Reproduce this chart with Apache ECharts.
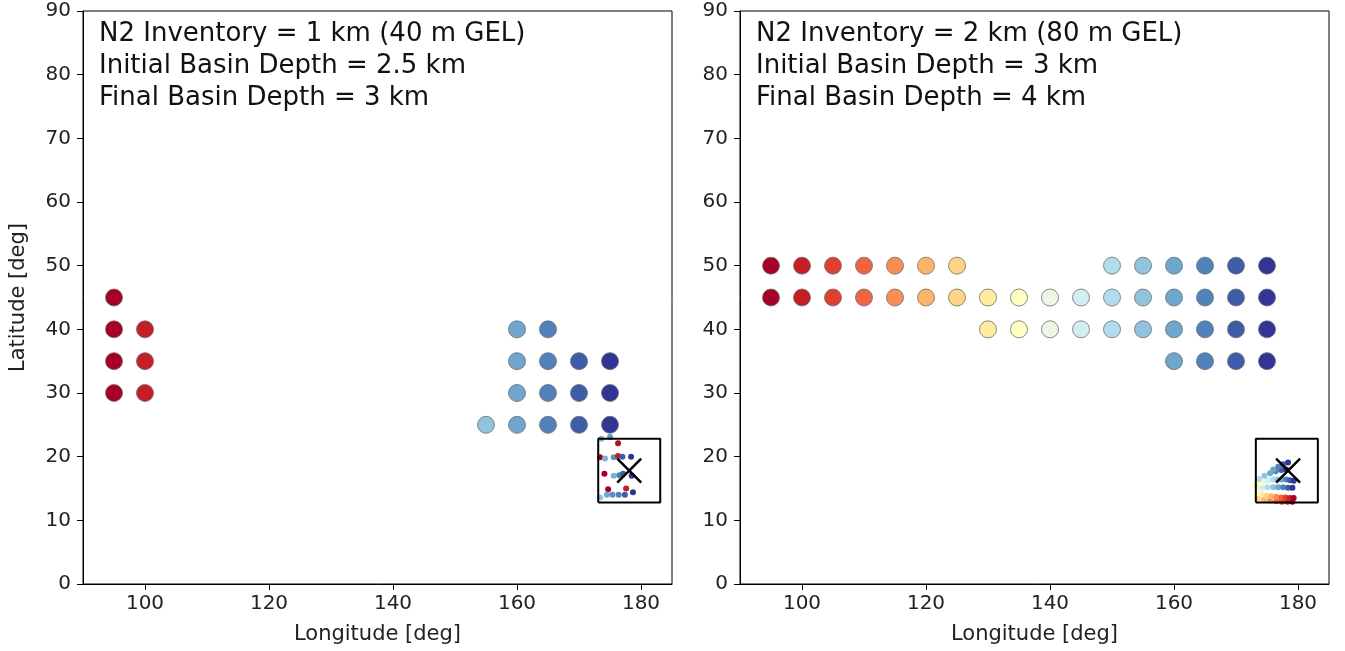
<!DOCTYPE html>
<html>
<head>
<meta charset="utf-8">
<script src="https://cdn.jsdelivr.net/npm/echarts@6/dist/echarts.min.js"></script>
<style>
  html, body { margin: 0; padding: 0; background: #fff; }
  #chart { width: 1345px; height: 651px; }
</style>
</head>
<body>
<div id="chart"></div>
<script>
// ---- data ----
var xTicks = [100, 120, 140, 160, 180];

var leftText = 'N2 Inventory = 1 km (40 m GEL)\nInitial Basin Depth = 2.5 km\nFinal Basin Depth = 3 km';
var rightText = 'N2 Inventory = 2 km (80 m GEL)\nInitial Basin Depth = 3 km\nFinal Basin Depth = 4 km';

// initial positions [lon, lat]
var leftStart = [
    [95, 45], [95, 40], [95, 35], [95, 30],
    [100, 40], [100, 35], [100, 30],
    [160, 40], [165, 40],
    [160, 35], [165, 35], [170, 35], [175, 35],
    [160, 30], [165, 30], [170, 30], [175, 30],
    [155, 25], [160, 25], [165, 25], [170, 25], [175, 25]
];

// final positions [lon, lat, starting lon]
var leftEnd = [
    [173.6, 22.8, 158], [175.0, 23.1, 162], [176.3, 22.1, 97],
    [173.4, 19.9, 95], [174.2, 19.7, 158], [175.6, 19.9, 163], [176.3, 20.1, 100], [177.0, 20.0, 170], [178.4, 20.0, 175],
    [174.1, 17.3, 95], [175.6, 17.0, 158], [176.5, 17.1, 165], [177.1, 17.3, 170], [178.5, 17.0, 175],
    [174.7, 14.9, 95], [177.6, 15.0, 100], [178.7, 14.4, 175],
    [173.4, 13.6, 155], [174.5, 14.0, 160], [175.4, 14.0, 163], [176.4, 14.0, 165], [177.4, 14.0, 170]
];

var rightStart = [
    [95, 50], [100, 50], [105, 50], [110, 50], [115, 50], [120, 50], [125, 50],
    [150, 50], [155, 50], [160, 50], [165, 50], [170, 50], [175, 50],
    [95, 45], [100, 45], [105, 45], [110, 45], [115, 45], [120, 45], [125, 45], [130, 45], [135, 45],
    [140, 45], [145, 45], [150, 45], [155, 45], [160, 45], [165, 45], [170, 45], [175, 45],
    [130, 40], [135, 40], [140, 40], [145, 40], [150, 40], [155, 40], [160, 40], [165, 40], [170, 40], [175, 40],
    [160, 35], [165, 35], [170, 35], [175, 35]
];

var rightEnd = [
    // from the 50 deg row, red part
    [173.5, 13.4, 125], [174.5, 13.2, 120], [175.5, 13.1, 115], [176.5, 13.0, 110], [177.4, 12.9, 105], [178.3, 12.9, 100], [179.1, 12.9, 95],
    // from the 45 deg row, warm part
    [173.3, 14.3, 135], [174.1, 14.1, 130], [174.9, 13.9, 125], [175.7, 13.8, 120], [176.5, 13.7, 115], [177.3, 13.6, 110], [178.0, 13.6, 105], [178.7, 13.5, 100], [179.3, 13.5, 95],
    // from the 45 deg row, cool part
    [173.5, 15.0, 140], [174.3, 15.1, 145], [175.1, 15.2, 150], [176.0, 15.2, 155], [176.8, 15.2, 160], [177.6, 15.2, 165], [178.4, 15.1, 170], [179.1, 15.1, 175],
    // from the 40 deg row
    [173.3, 15.5, 130], [173.9, 15.9, 135], [174.6, 16.1, 140], [175.3, 16.3, 145], [176.0, 16.4, 150], [176.7, 16.4, 155], [177.4, 16.4, 160], [178.1, 16.4, 165], [178.7, 16.3, 170], [179.3, 16.2, 175],
    // from the 50 deg row, blue part
    [173.7, 16.5, 150], [174.6, 17.0, 155], [175.5, 17.4, 160], [176.4, 17.7, 165], [177.3, 17.9, 170], [178.1, 18.0, 175],
    // from the 35 deg row
    [176.0, 18.0, 160], [176.8, 18.4, 165], [177.6, 18.8, 170], [178.4, 19.1, 175]
];

var leftTarget = [[178.1, 17.8]];
var rightTarget = [[178.4, 17.8]];
var leftBox = [[173.1, 12.8], [183.1, 12.8], [183.1, 22.8], [173.1, 22.8], [173.1, 12.8]];
var rightBox = [[173.2, 12.8], [183.2, 12.8], [183.2, 22.8], [173.2, 22.8], [173.2, 12.8]];

var rdYlBu = ['#a50026', '#d73027', '#f46d43', '#fdae61', '#fee090', '#ffffbf',
              '#e0f3f8', '#abd9e9', '#74add1', '#4575b4', '#313695'];

// ---- chart ----
var chart = echarts.init(document.getElementById('chart'));
var font = 'DejaVu Sans, sans-serif';

function xAxisFor(idx) {
    return {
        gridIndex: idx,
        type: 'value',
        min: 90,
        max: 185,
        name: 'Longitude [deg]',
        nameLocation: 'middle',
        nameGap: 40,
        nameTextStyle: { color: '#222', fontSize: 21, fontFamily: font },
        axisLine: { show: true, onZero: false, lineStyle: { color: '#000', width: 1 } },
        axisTick: { show: true, customValues: xTicks, length: 6, lineStyle: { color: '#000' } },
        axisLabel: { customValues: xTicks, color: '#222', fontSize: 20, fontFamily: font, margin: 10 },
        splitLine: { show: false }
    };
}

function yAxisFor(idx, withName) {
    return {
        gridIndex: idx,
        type: 'value',
        min: 0,
        max: 90,
        interval: 10,
        name: withName ? 'Latitude [deg]' : '',
        nameLocation: 'middle',
        nameGap: 54,
        nameTextStyle: { color: '#222', fontSize: 21, fontFamily: font },
        axisLine: { show: true, onZero: false, lineStyle: { color: '#000', width: 1 } },
        axisTick: { show: true, length: 6, lineStyle: { color: '#000' } },
        axisLabel: { color: '#222', fontSize: 20, fontFamily: font, margin: 12 },
        splitLine: { show: false }
    };
}

function withColor(arr) {
    return arr.map(function (p) { return [p[0], p[1], p[0]]; });
}

function panelSeries(idx, start, end, box, target) {
    return [
        {
            type: 'scatter',
            xAxisIndex: idx, yAxisIndex: idx,
            data: withColor(start),
            symbolSize: 17,
            itemStyle: { borderColor: 'rgba(110,110,110,0.8)', borderWidth: 1, opacity: 1 },
            z: 2
        },
        {
            type: 'scatter',
            xAxisIndex: idx, yAxisIndex: idx,
            data: end,
            symbolSize: 6,
            itemStyle: { opacity: 1 },
            z: 3
        },
        {
            type: 'line',
            xAxisIndex: idx, yAxisIndex: idx,
            data: box,
            showSymbol: false,
            lineStyle: { color: '#000', width: 2 },
            silent: true,
            z: 4
        },
        {
            type: 'scatter',
            xAxisIndex: idx, yAxisIndex: idx,
            data: target,
            symbol: 'path://M0,0L10,10M10,0L0,10',
            symbolSize: 24,
            itemStyle: { color: 'transparent', borderColor: '#000', borderWidth: 2.5, opacity: 1 },
            z: 5
        }
    ];
}

chart.setOption({
    animation: false,
    title: [
        {
            text: leftText, left: 94, top: 13,
            textStyle: { fontSize: 26, fontWeight: 'normal', color: '#111', fontFamily: font, lineHeight: 32 }
        },
        {
            text: rightText, left: 751, top: 13,
            textStyle: { fontSize: 26, fontWeight: 'normal', color: '#111', fontFamily: font, lineHeight: 32 }
        }
    ],
    grid: [
        { left: 83, top: 11, width: 589, height: 573, show: true, borderColor: '#000', borderWidth: 1, backgroundColor: '#fff' },
        { left: 740, top: 11, width: 589, height: 573, show: true, borderColor: '#000', borderWidth: 1, backgroundColor: '#fff' }
    ],
    xAxis: [xAxisFor(0), xAxisFor(1)],
    yAxis: [yAxisFor(0, true), yAxisFor(1, false)],
    visualMap: {
        type: 'continuous',
        show: false,
        dimension: 2,
        min: 95,
        max: 175,
        seriesIndex: [0, 1, 4, 5],
        inRange: { color: rdYlBu }
    },
    series: panelSeries(0, leftStart, leftEnd, leftBox, leftTarget)
        .concat(panelSeries(1, rightStart, rightEnd, rightBox, rightTarget))
});
</script>
</body>
</html>
